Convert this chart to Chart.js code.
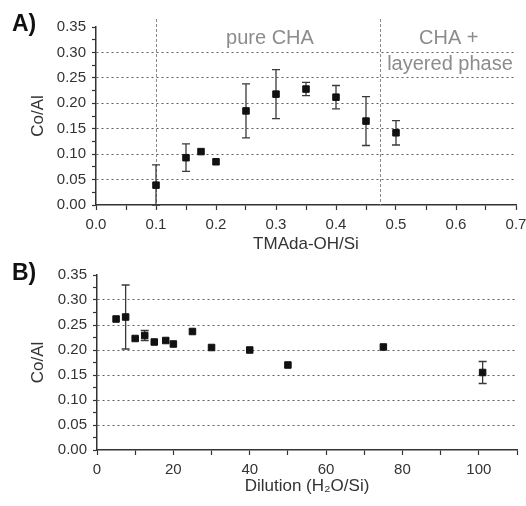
<!DOCTYPE html>
<html>
<head>
<meta charset="utf-8">
<script src="https://cdn.jsdelivr.net/npm/chart.js@4.4.0/dist/chart.umd.min.js"></script>
<style>
  body { margin: 0; background: #fff; }
  #wrap { position: relative; width: 526px; height: 506px; overflow: hidden; }
  canvas { position: absolute; left: 0; }
  .tag { position: absolute; left: 12px; font: bold 23px "Liberation Sans", Arial, sans-serif; color: #111; }
</style>
</head>
<body>
<div id="wrap">
  <canvas id="chartA" width="526" height="260" style="top:0"></canvas>
  <canvas id="chartB" width="526" height="246" style="top:260px"></canvas>
  <div class="tag" style="top:10px">A)</div>
  <div class="tag" style="top:259px">B)</div>
</div>
<script>
// panel A: Co/Al vs TMAda-OH/Si
const tmadaX = [0.1, 0.15, 0.175, 0.2, 0.25, 0.3, 0.35, 0.4, 0.45, 0.5];
const coAlA  = [0.039, 0.093, 0.105, 0.085, 0.185, 0.218, 0.228, 0.212, 0.165, 0.142];
const errA   = [0.04, 0.027, 0, 0, 0.053, 0.048, 0.013, 0.023, 0.048, 0.024];

// panel B: Co/Al vs dilution
const dilutionX = [5, 7.5, 10, 12.5, 15, 18, 20, 25, 30, 40, 50, 75, 101];
const coAlB  = [0.262, 0.266, 0.223, 0.229, 0.216, 0.219, 0.212, 0.237, 0.205, 0.200, 0.170, 0.206, 0.155];
const errB   = [0, 0.064, 0, 0.01, 0, 0, 0, 0, 0, 0, 0, 0, 0.022];

const phaseBounds = [0.1, 0.474];
const phaseText = ['pure CHA', 'CHA +', 'layered phase'];
const phaseTextX = [0.29, 0.588, 0.59];
const phaseTextY = [0.328, 0.327, 0.277];

const FONT = '"Liberation Sans", Arial, sans-serif';
const ink = '#333';

const isStep = (v, s) => Math.abs(v / s - Math.round(v / s)) < 1e-6;

const errorBars = {
  id: 'errorBars',
  beforeDatasetsDraw(chart) {
    const ctx = chart.ctx, xs = chart.scales.x, ys = chart.scales.y;
    chart.data.datasets.forEach(ds => {
      if (!ds.errorBars) return;
      ctx.save();
      ctx.strokeStyle = '#3a3a3a';
      ctx.lineWidth = 1.3;
      ds.data.forEach((p, i) => {
        const e = ds.errorBars[i];
        if (!e) return;
        const x = xs.getPixelForValue(p.x);
        const yt = ys.getPixelForValue(p.y + e);
        const yb = ys.getPixelForValue(Math.max(0, p.y - e));
        ctx.beginPath();
        ctx.moveTo(x, yt); ctx.lineTo(x, yb);
        ctx.moveTo(x - 4, yt); ctx.lineTo(x + 4, yt);
        ctx.moveTo(x - 4, yb); ctx.lineTo(x + 4, yb);
        ctx.stroke();
      });
      ctx.restore();
    });
  }
};

const phases = {
  id: 'phases',
  beforeDatasetsDraw(chart) {
    if (chart.canvas.id !== 'chartA') return;
    const ctx = chart.ctx, xs = chart.scales.x, ys = chart.scales.y;
    const area = chart.chartArea;
    ctx.save();
    ctx.strokeStyle = '#888';
    ctx.lineWidth = 1;
    ctx.setLineDash([3, 2]);
    phaseBounds.forEach(b => {
      const x = Math.round(xs.getPixelForValue(b)) + 0.5;
      ctx.beginPath();
      ctx.moveTo(x, area.top - 8);
      ctx.lineTo(x, area.bottom);
      ctx.stroke();
    });
    ctx.setLineDash([]);
    ctx.fillStyle = '#8c8c8c';
    ctx.font = '20px ' + FONT;
    ctx.textAlign = 'center';
    ctx.textBaseline = 'middle';
    phaseText.forEach((t, i) => {
      ctx.fillText(t, xs.getPixelForValue(phaseTextX[i]), ys.getPixelForValue(phaseTextY[i]));
    });
    ctx.restore();
  }
};

function makeChart(id, xs, ys, errs, opts) {
  const data = xs.map((x, i) => ({ x: x, y: ys[i] }));
  return new Chart(document.getElementById(id), {
    type: 'scatter',
    data: {
      datasets: [{
        data: data,
        errorBars: errs,
        pointStyle: 'rect',
        pointRadius: 4.6,
        backgroundColor: '#111',
        borderColor: '#111',
        borderWidth: 1
      }]
    },
    options: {
      responsive: false,
      animation: false,
      layout: { padding: opts.padding },
      plugins: { legend: { display: false }, tooltip: { enabled: false } },
      scales: {
        x: {
          type: 'linear',
          min: opts.xMin, max: opts.xMax,
          afterFit(scale) {
            scale.height = opts.xHeight;
            scale.paddingLeft = 0;
            scale.paddingRight = 0;
          },
          border: { color: ink, width: 1.5 },
          grid: { drawOnChartArea: false, drawTicks: true, tickLength: 5, tickColor: ink, tickWidth: 1.2 },
          ticks: {
            stepSize: opts.xStep,
            autoSkip: false,
            maxRotation: 0,
            padding: 6,
            color: ink,
            font: { family: FONT, size: 15 },
            callback: v => isStep(v, opts.xLabelStep) ? opts.xFmt(v) : ''
          },
          title: {
            display: true,
            text: opts.xTitle,
            color: ink,
            font: { family: FONT, size: 17 },
            padding: { top: 0, bottom: opts.xTitlePad }
          }
        },
        y: {
          type: 'linear',
          min: 0, max: 0.35,
          afterFit(scale) { scale.width = opts.yWidth; },
          border: { color: ink, width: 1.5, dash: [2, 3] },
          grid: {
            drawTicks: true,
            tickLength: 4,
            tickColor: ink,
            tickWidth: 1.2,
            lineWidth: 1,
            color: c => {
              const v = c.tick ? c.tick.value : 0;
              return (isStep(v, 0.05) && v > 0.001 && v < 0.349) ? '#5e5e5e' : 'rgba(0,0,0,0)';
            }
          },
          ticks: {
            stepSize: 0.025,
            autoSkip: false,
            padding: 6,
            color: ink,
            font: { family: FONT, size: 15 },
            callback: v => isStep(v, 0.05) ? v.toFixed(2) : ''
          },
          title: {
            display: true,
            text: 'Co/Al',
            color: ink,
            font: { family: FONT, size: 17 },
            padding: { top: 28, bottom: 0 }
          }
        }
      }
    },
    plugins: [phases, errorBars]
  });
}

makeChart('chartA', tmadaX, coAlA, errA, {
  padding: { top: 27, right: 10, bottom: 0, left: 0 },
  xMin: 0, xMax: 0.7, xStep: 0.05, xLabelStep: 0.1,
  xFmt: v => v.toFixed(1),
  xTitle: 'TMAda-OH/Si', xTitlePad: 5,
  xHeight: 55, yWidth: 96
});

makeChart('chartB', dilutionX, coAlB, errB, {
  padding: { top: 13, right: 9, bottom: 0, left: 0 },
  xMin: 0, xMax: 110, xStep: 10, xLabelStep: 20,
  xFmt: v => String(Math.round(v)),
  xTitle: 'Dilution (H\u2082O/Si)', xTitlePad: 9,
  xHeight: 56, yWidth: 97
});
</script>
</body>
</html>
